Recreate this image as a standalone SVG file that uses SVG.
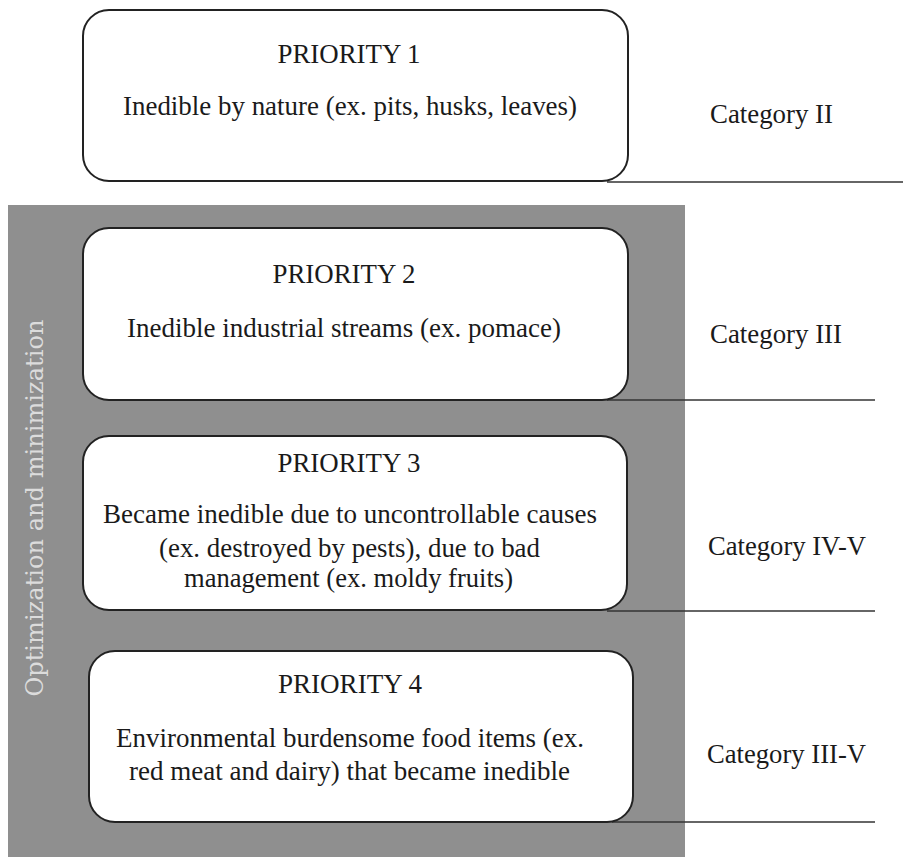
<svg xmlns="http://www.w3.org/2000/svg" width="903" height="857" viewBox="0 0 903 857">
  <style>
    .box { fill: #ffffff; stroke: #222222; stroke-width: 2; }
    .t { font-family: "Liberation Serif", "Times New Roman", serif; font-size: 27px; fill: #1a1a1a; text-anchor: middle; }
    .cat { font-family: "Liberation Serif", "Times New Roman", serif; font-size: 27px; fill: #1a1a1a; }
    .side { font-family: "DejaVu Serif", "Liberation Serif", serif; font-size: 24px; fill: #dcdcdc; text-anchor: middle; }
    .conn { stroke: #333333; stroke-width: 1.5; fill: none; }
  </style>
  <rect width="903" height="857" fill="#ffffff"/>
  <g id="band">
    <rect x="8" y="205" width="677" height="652" fill="#8f8f8f"/>
    <text class="side" transform="translate(43,508) rotate(-90)" x="0" y="0" textLength="377" lengthAdjust="spacingAndGlyphs">Optimization and minimization</text>
  </g>
  <g id="connectors">
    <line class="conn" x1="607" y1="182" x2="903" y2="182"/>
    <line class="conn" x1="607" y1="400" x2="875" y2="400"/>
    <line class="conn" x1="607" y1="611" x2="875" y2="611"/>
    <line class="conn" x1="612" y1="822" x2="875" y2="822"/>
  </g>
  <g id="priority1">
    <rect class="box" x="83" y="10" width="545" height="171" rx="26" ry="26"/>
    <text class="t" x="349" y="63" textLength="143" lengthAdjust="spacingAndGlyphs">PRIORITY 1</text>
    <text class="t" x="350" y="115" textLength="454" lengthAdjust="spacingAndGlyphs">Inedible by nature (ex. pits, husks, leaves)</text>
  </g>
  <g id="priority2">
    <rect class="box" x="83" y="228" width="545" height="172" rx="26" ry="26"/>
    <text class="t" x="344" y="283" textLength="143" lengthAdjust="spacingAndGlyphs">PRIORITY 2</text>
    <text class="t" x="344" y="337" textLength="434" lengthAdjust="spacingAndGlyphs">Inedible industrial streams (ex. pomace)</text>
  </g>
  <g id="priority3">
    <rect class="box" x="83" y="436" width="544" height="174" rx="26" ry="26"/>
    <text class="t" x="349" y="472" textLength="143" lengthAdjust="spacingAndGlyphs">PRIORITY 3</text>
    <text class="t" x="350" y="523" textLength="494" lengthAdjust="spacingAndGlyphs">Became inedible due to uncontrollable causes</text>
    <text class="t" x="349.5" y="557" textLength="381" lengthAdjust="spacingAndGlyphs">(ex. destroyed by pests), due to bad</text>
    <text class="t" x="348.5" y="587" textLength="329" lengthAdjust="spacingAndGlyphs">management (ex. moldy fruits)</text>
  </g>
  <g id="priority4">
    <rect class="box" x="89" y="651" width="544" height="171" rx="26" ry="26"/>
    <text class="t" x="350" y="693" textLength="144" lengthAdjust="spacingAndGlyphs">PRIORITY 4</text>
    <text class="t" x="350" y="747" textLength="468" lengthAdjust="spacingAndGlyphs">Environmental burdensome food items (ex.</text>
    <text class="t" x="349.5" y="780" textLength="441" lengthAdjust="spacingAndGlyphs">red meat and dairy) that became inedible</text>
  </g>
  <g id="categories">
    <text class="cat" x="710" y="123" textLength="123" lengthAdjust="spacingAndGlyphs">Category II</text>
    <text class="cat" x="710" y="343" textLength="132" lengthAdjust="spacingAndGlyphs">Category III</text>
    <text class="cat" x="708" y="555" textLength="158" lengthAdjust="spacingAndGlyphs">Category IV-V</text>
    <text class="cat" x="707" y="763" textLength="159" lengthAdjust="spacingAndGlyphs">Category III-V</text>
  </g>
</svg>
